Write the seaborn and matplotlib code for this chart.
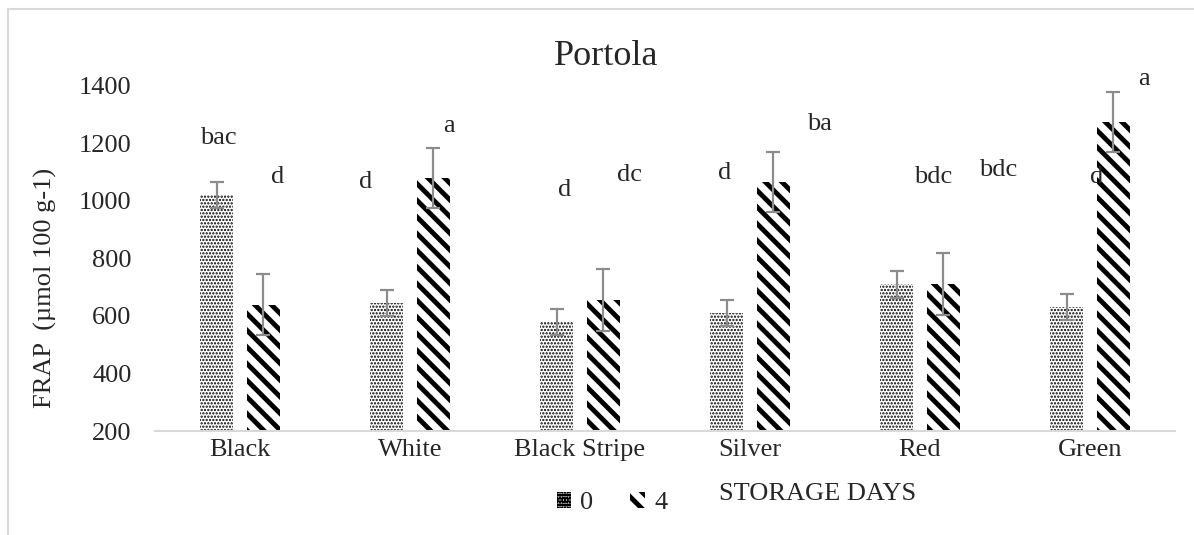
import matplotlib
matplotlib.use("Agg")
import matplotlib.pyplot as plt
import matplotlib.patches as mpatches
from matplotlib.lines import Line2D
import seaborn as sns
import pandas as pd
import numpy as np

# ---- data ----
categories = ["Black", "White", "Black Stripe", "Silver", "Red", "Green"]
days = ["0", "4"]
frap_day0 = [1020, 645, 580, 610, 710, 630]
frap_day4 = [640, 1080, 655, 1065, 712, 1275]
err_day0 = [45, 45, 45, 45, 46, 45]
err_day4 = [105, 105, 108, 105, 108, 105]
letters = ["bac", "d", "d", "a", "d", "dc", "d", "ba", "bdc", "bdc", "d", "a"]
letter_cat = [0, 0, 1, 1, 2, 2, 3, 3, 4, 4, 5, 5]
letter_dx = [-0.13, 0.22, -0.26, 0.23, -0.09, 0.29, -0.15, 0.41, 0.08, 0.46, 0.04, 0.32]
letter_y = [1219, 1083, 1066, 1261, 1038, 1090, 1097, 1268, 1083, 1108, 1083, 1424]

df = pd.DataFrame({
    "cat": categories * 2,
    "day": [days[0]] * len(categories) + [days[1]] * len(categories),
    "frap": frap_day0 + frap_day4,
})

sns.set_theme(style="white")
plt.rcParams["font.family"] = ["Liberation Serif", "DejaVu Serif"]
plt.rcParams["hatch.linewidth"] = 3.5

W, H = 1194, 535
fig = plt.figure(figsize=(W / 100, H / 100), dpi=100)
ax = fig.add_axes([155 / W, 1 - 431 / H, (1175 - 155) / W, (431 - 86) / H])

sns.barplot(data=df, x="cat", y="frap", hue="day", order=categories, hue_order=days,
            palette=["white", "white"], width=0.55, gap=0.3, ax=ax,
            legend=False, errorbar=None, linewidth=0, edgecolor="black")

hatches = {"0": ".....", "4": "\\\\"}
hlw = {"0": 1.1, "4": 3.5}
errs = {"0": err_day0, "4": err_day4}
vals = {"0": frap_day0, "4": frap_day4}
for container, d in zip(ax.containers, days):
    xs = []
    for p in container:
        p.set_hatch(hatches[d])
        p.set_edgecolor("black")
        p.set_linewidth(0)
        if hasattr(p, "set_hatch_linewidth"):
            p.set_hatch_linewidth(hlw[d])
        xs.append(p.get_x() + p.get_width() / 2)
    ax.errorbar(xs, vals[d], yerr=errs[d], fmt="none", ecolor="#8c8c8c",
                elinewidth=1.6, capsize=5, capthick=1.6, zorder=5)

for lab, c, dx, y in zip(letters, letter_cat, letter_dx, letter_y):
    ax.text(c + dx, y, lab, ha="center", va="center", fontsize=19, clip_on=False)

ax.set_ylim(200, 1400)
ax.set_xlim(-0.5, len(categories) - 0.5)
ax.set_yticks([200, 400, 600, 800, 1000, 1200, 1400])
ax.tick_params(axis="y", length=0, labelsize=19, pad=17)
ax.tick_params(axis="x", length=0, labelsize=19, pad=6)
ax.set_xlabel("")
ax.set_ylabel("")
for s in ["top", "right", "left"]:
    ax.spines[s].set_visible(False)
ax.spines["bottom"].set_color("#d9d9d9")
ax.spines["bottom"].set_linewidth(1.5)

fig.text(606 / W, 1 - 57 / H, "Portola", ha="center", va="center", fontsize=26)
fig.text(45 / W, 1 - 288 / H, "FRAP  (µmol 100 g-1)", rotation=90,
         ha="center", va="center", fontsize=19)
fig.text(719 / W, 1 - 494 / H, "STORAGE DAYS", ha="left", va="center", fontsize=19)

handles = []
for d in days:
    h = mpatches.Patch(facecolor="white", edgecolor="black", linewidth=0, hatch=hatches[d])
    if hasattr(h, "set_hatch_linewidth"):
        h.set_hatch_linewidth(hlw[d])
    handles.append(h)
fig.legend(handles, days, loc="center", bbox_to_anchor=(612 / W, 1 - 503 / H), ncol=2,
           frameon=False, fontsize=19, handlelength=0.55, handleheight=0.6,
           handletextpad=0.35, columnspacing=1.4)

fig.add_artist(Line2D([8 / W, 8 / W], [0, 1 - 9 / H], transform=fig.transFigure,
                      color="#d9d9d9", lw=1.5))
fig.add_artist(Line2D([8 / W, 1], [1 - 9 / H, 1 - 9 / H], transform=fig.transFigure,
                      color="#d9d9d9", lw=1.5))

fig.savefig("out.png", dpi=100, facecolor="white")
